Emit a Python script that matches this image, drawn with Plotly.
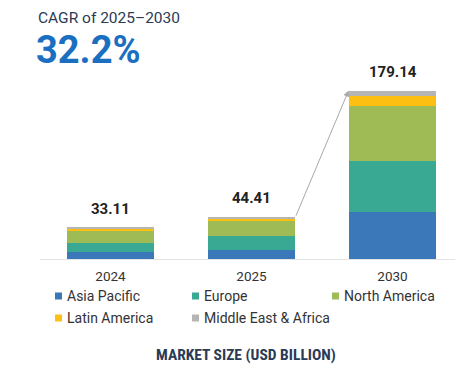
import plotly.graph_objects as go

# ---- data ----
years = ["2024", "2025", "2030"]
totals = [33.11, 44.41, 179.14]
regions = ["Asia Pacific", "Europe", "North America", "Latin America", "Middle East & Africa"]
asia_pacific = [7.45, 9.73, 50.40]
europe = [9.93, 14.38, 54.30]
north_america = [12.83, 17.34, 57.80]
latin_america = [2.07, 2.11, 10.60]
middle_east_africa = [0.83, 0.85, 6.04]
series = [asia_pacific, europe, north_america, latin_america, middle_east_africa]
colors = ["#3b78b9", "#3aa993", "#9fbb55", "#fdc012", "#b5b5b5"]

OFF = 8  # page body margin
W, H = 463 - OFF, 374 - OFF
ML, MR, MT, MB = 40 - OFF, 0, 60 - OFF, 115
PW, PH = W - ML - MR, H - MT - MB


def px_x(px):
    return (px - OFF - ML) / PW


def px_y(py):
    return (H - MB - (py - OFF)) / PH


xs = list(range(len(years)))
fig = go.Figure()
for name, vals, col in zip(regions, series, colors):
    fig.add_trace(go.Bar(x=xs, y=vals, name=name, marker=dict(color=col, line=dict(width=0)),
                         showlegend=False))

fig.update_layout(
    barmode="stack", bargap=0.378,
    width=W, height=H, margin=dict(l=ML, r=MR, t=MT, b=MB),
    paper_bgcolor="white", plot_bgcolor="white",
    font=dict(family="Roboto, Inter, sans-serif", color="#333"),
    xaxis=dict(range=[-0.5, 2.5], tickvals=xs, ticktext=years, showgrid=False, zeroline=False,
               showline=True, linecolor="#e3e3e3", linewidth=1, ticks="",
               tickfont=dict(size=13.5, color="#333"), ticklabelstandoff=5),
    yaxis=dict(range=[0, 211.6], visible=False, showgrid=False),
)

anns = []
# value labels
for x, t in zip(xs, totals):
    anns.append(dict(x=x, y=t, xref="x", yref="y", text=f"<b>{t:.2f}</b>", showarrow=False,
                     yanchor="bottom", yshift=8, font=dict(size=15, color="#222")))
# arrow from 2025 to 2030
hw = (1 - 0.378) / 2
anns.append(dict(x=2 - hw, y=totals[2], ax=1 + hw, ay=totals[1], xref="x", yref="y",
                 axref="x", ayref="y", text="", showarrow=True, arrowhead=2, arrowsize=1.2,
                 arrowwidth=1, arrowcolor="#a8a8a8", standoff=0, startstandoff=0))
# header
anns.append(dict(x=px_x(36), y=px_y(18), xref="paper", yref="paper", xanchor="left", yanchor="middle",
                 text="CAGR of 2025–2030", showarrow=False, font=dict(size=15.5, color="#2b3a55")))
anns.append(dict(x=px_x(34), y=px_y(50), xref="paper", yref="paper", xanchor="left", yanchor="middle",
                 text="<b>32.2%</b>", showarrow=False, font=dict(size=38, color="#1b6fc1")))
# footer
anns.append(dict(x=px_x(246), y=px_y(355), xref="paper", yref="paper", xanchor="center", yanchor="middle",
                 text="<b>MARKET SIZE (USD BILLION)</b>", showarrow=False,
                 font=dict(family="Liberation Sans Narrow, Roboto Condensed, sans-serif", size=15.5,
                           color="#2b3a55")))

# manual legend
shapes = []
legend_pos = [(55, 296), (192, 296), (332, 296), (55, 318), (192, 318)]
for name, col, (lx, ly) in zip(regions, colors, legend_pos):
    shapes.append(dict(type="rect", xref="paper", yref="paper", x0=px_x(lx), x1=px_x(lx + 7),
                       y0=px_y(ly + 3.5), y1=px_y(ly - 3.5), fillcolor=col, line=dict(width=0)))
    anns.append(dict(x=px_x(lx + 10), y=px_y(ly), xref="paper", yref="paper", xanchor="left",
                     yanchor="middle", text=name, showarrow=False, font=dict(size=14, color="#333")))

fig.update_layout(annotations=anns, shapes=shapes)
fig.write_html("out.html")
